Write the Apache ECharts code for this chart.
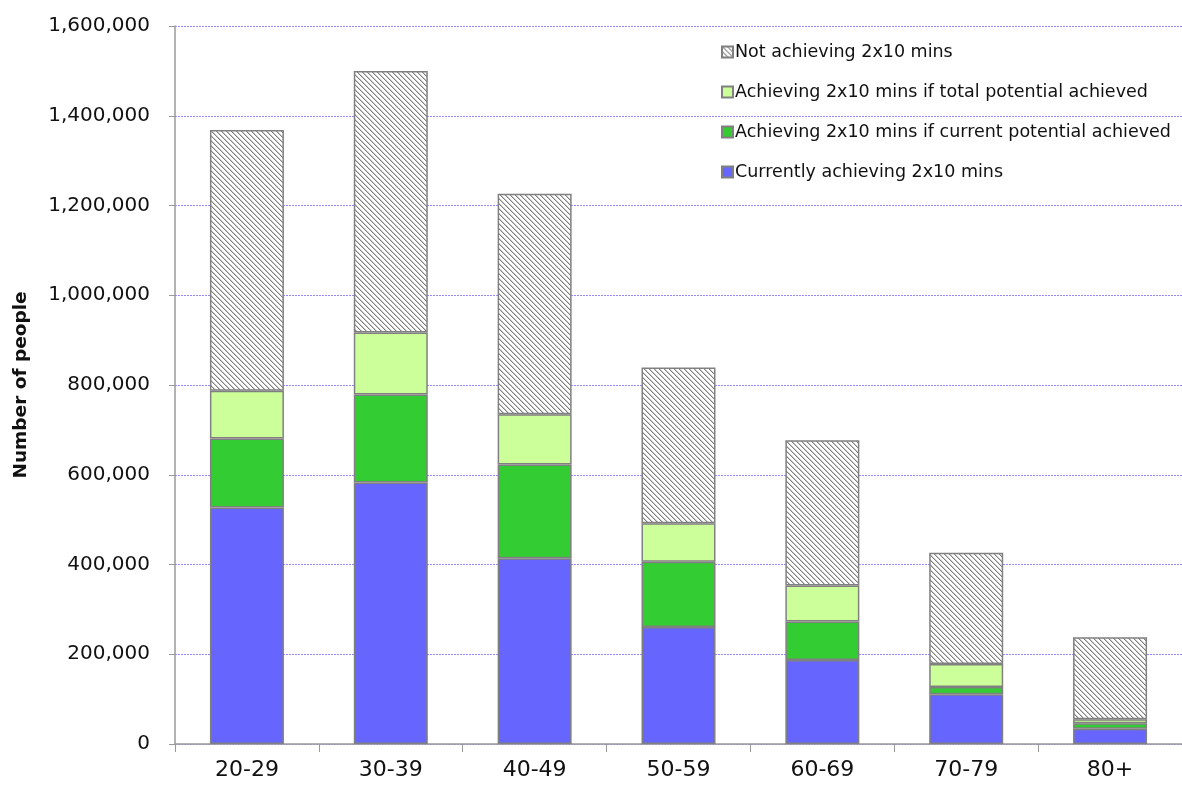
<!DOCTYPE html>
<html>
<head>
<meta charset="utf-8">
<script src="https://cdn.jsdelivr.net/npm/echarts@6/dist/echarts.min.js"></script>
<style>html,body{margin:0;padding:0;background:#fff}#c{width:1182px;height:787px}</style>
</head>
<body>
<div id="c"></div>
<script>
const categories = ['20-29','30-39','40-49','50-59','60-69','70-79','80+'];
const currentlyAchieving = [527000, 583000, 414000, 261000, 187000, 111000, 34000];
const currentPotential = [154000, 196000, 209000, 145000, 86000, 16000, 12000];
const totalPotential = [106000, 138000, 112000, 86000, 80000, 51000, 9000];
const notAchieving = [581000, 583000, 491000, 347000, 324000, 248000, 183000];
const seriesNames = ['Currently achieving 2x10 mins','Achieving 2x10 mins if current potential achieved','Achieving 2x10 mins if total potential achieved','Not achieving 2x10 mins'];

// hatch pattern
const pc = document.createElement('canvas');
pc.width = 5; pc.height = 5;
const px = pc.getContext('2d');
px.fillStyle = '#ffffff'; px.fillRect(0,0,5,5);
for (let i = 0; i < 5; i++) {
  px.fillStyle = '#808080'; px.fillRect(i, i, 1, 1);
  px.fillStyle = '#c8c8c8'; px.fillRect((i+1)%5, i, 1, 1);
}
const hatch = {image: pc, repeat: 'repeat'};

const FONT = '"DejaVu Sans", sans-serif';
const chart = echarts.init(document.getElementById('c'), null, {renderer: 'canvas'});
const colors = ['#6666FF', '#33CC33', '#CCFF99', hatch];
const data = [currentlyAchieving, currentPotential, totalPotential, notAchieving];
chart.setOption({
  animation: false,
  backgroundColor: '#fff',
  grid: {left: 175, right: 0, top: 26, bottom: 43, containLabel: false},
  legend: {
    orient: 'vertical', left: 716, top: 38,
    data: [seriesNames[3], seriesNames[2], seriesNames[1], seriesNames[0]],
    itemWidth: 11, itemHeight: 11, itemGap: 22,
    textStyle: {fontFamily: FONT, fontSize: 17.5, color: '#111', lineHeight: 18, padding: [0,0,0,-3]},
    icon: 'rect'
  },
  xAxis: {
    type: 'category', data: categories,
    axisLine: {lineStyle: {color: '#999', width: 1.5}},
    axisTick: {show: true, length: 8, lineStyle: {color: '#999'}},
    axisLabel: {fontFamily: FONT, fontSize: 22, color: '#111', margin: 15}
  },
  yAxis: {
    type: 'value', min: 0, max: 1600000, interval: 200000,
    name: 'Number of people', nameLocation: 'middle', nameGap: 144,
    nameTextStyle: {fontFamily: FONT, fontSize: 18.5, fontWeight: 'bold', color: '#111'},
    axisLine: {show: true, lineStyle: {color: '#999', width: 1.5}},
    axisTick: {show: true, inside: false, length: 6, lineStyle: {color: '#999'}},
    axisLabel: {fontFamily: FONT, fontSize: 20, color: '#111', margin: 25,
      formatter: v => v.toLocaleString('en-US')},
    splitLine: {lineStyle: {color: '#9a88ff', type: [2, 1], width: 1}}
  },
  series: seriesNames.map((n, i) => ({
    name: n, type: 'bar', stack: 'total', data: data[i], barWidth: 74,
    itemStyle: {color: colors[i], borderColor: '#808080', borderWidth: 1.5}
  }))
});
</script>
</body>
</html>
